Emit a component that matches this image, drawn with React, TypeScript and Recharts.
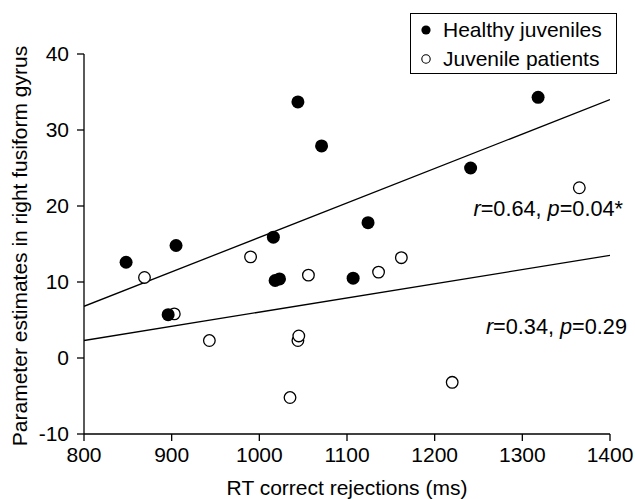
import React from "react";
import { ComposedChart, Scatter, XAxis, YAxis } from "recharts";

document.body.style.margin = "0";

// RT correct rejections (ms) vs parameter estimate
const healthyRt = [848, 896, 905, 1016, 1018, 1023, 1044, 1071, 1107, 1124, 1241, 1318];
const healthyBeta = [12.6, 5.7, 14.8, 15.9, 10.2, 10.4, 33.7, 27.9, 10.5, 17.8, 25.0, 34.3];

const patientRt = [869, 903, 943, 990, 1035, 1044, 1045, 1056, 1136, 1162, 1220, 1365];
const patientBeta = [10.6, 5.8, 2.3, 13.3, -5.2, 2.3, 2.9, 10.9, 11.3, 13.2, -3.2, 22.4];

// fitted lines, endpoints
const fitX = [800, 1400];
const healthyFit = [6.8, 34.0];
const patientFit = [2.3, 13.5];

const xTicks = [800, 900, 1000, 1100, 1200, 1300, 1400];
const yTicks = [-10, 0, 10, 20, 30, 40];

const FONT = '"Liberation Sans", Arial, Helvetica, sans-serif';
const FS = 21;

const toPoints = (xs: number[], ys: number[]) => xs.map((x, i) => ({ x, y: ys[i] }));

const FilledDot = (p: any) => <circle cx={p.cx} cy={p.cy} r={6.5} fill="#000" />;
const OpenDot = (p: any) => (
  <circle cx={p.cx} cy={p.cy} r={5.8} fill="#fff" stroke="#000" strokeWidth={1.3} />
);
const NoDot = () => <g />;

function LegendBox() {
  const row = { display: "flex", alignItems: "center", height: 29 } as const;
  return (
    <div
      style={{
        position: "absolute",
        left: 410,
        top: 13,
        border: "1.3px solid #000",
        background: "#fff",
        width: 207,
        height: 61,
        boxSizing: "border-box",
        padding: "1px 0 0 9px",
        fontSize: FS,
        color: "#000",
      }}
    >
      <div style={row}>
        <svg width={23} height={14}>
          <circle cx={6} cy={7} r={4.6} fill="#000" />
        </svg>
        Healthy juveniles
      </div>
      <div style={row}>
        <svg width={23} height={14}>
          <circle cx={6} cy={7} r={4.2} fill="#fff" stroke="#000" strokeWidth={1.1} />
        </svg>
        Juvenile patients
      </div>
    </div>
  );
}

const tickStyle = { fontSize: FS, fill: "#000", fontFamily: FONT };
const axisLine = { stroke: "#000", strokeWidth: 1.3 };
const note = { position: "absolute", fontSize: 21.7, color: "#000", whiteSpace: "nowrap" } as const;

export default function App() {
  return (
    <div style={{ position: "relative", width: 635, height: 499, background: "#fff", fontFamily: FONT }}>
      <ComposedChart width={635} height={499} margin={{ top: 54, right: 25, bottom: 0, left: 0 }}>
        <XAxis
          type="number"
          dataKey="x"
          domain={[800, 1400]}
          ticks={xTicks}
          allowDataOverflow
          height={65}
          tick={tickStyle}
          tickSize={7}
          tickMargin={6}
          axisLine={axisLine}
          tickLine={axisLine}
          label={{
            value: "RT correct rejections (ms)",
            position: "insideBottom",
            offset: 4,
            style: { fontSize: FS, fill: "#000", fontFamily: FONT },
          }}
        />
        <YAxis
          type="number"
          dataKey="y"
          domain={[-10, 40]}
          ticks={yTicks}
          allowDataOverflow
          width={84}
          tick={tickStyle}
          tickSize={7}
          tickMargin={8}
          axisLine={axisLine}
          tickLine={axisLine}
        />
        <Scatter
          data={toPoints(fitX, healthyFit)}
          line={{ stroke: "#000", strokeWidth: 1.3 }}
          shape={NoDot}
          legendType="none"
          isAnimationActive={false}
        />
        <Scatter
          data={toPoints(fitX, patientFit)}
          line={{ stroke: "#000", strokeWidth: 1.3 }}
          shape={NoDot}
          legendType="none"
          isAnimationActive={false}
        />
        <Scatter
          name="Juvenile patients"
          data={toPoints(patientRt, patientBeta)}
          shape={OpenDot}
          isAnimationActive={false}
        />
        <Scatter
          name="Healthy juveniles"
          data={toPoints(healthyRt, healthyBeta)}
          shape={FilledDot}
          isAnimationActive={false}
        />
      </ComposedChart>

      <LegendBox />
      <div
        style={{
          position: "absolute",
          left: 20,
          top: 246,
          transform: "translate(-50%, -50%) rotate(-90deg)",
          whiteSpace: "nowrap",
          fontSize: FS,
          color: "#000",
        }}
      >
        Parameter estimates in right fusiform gyrus
      </div>
      <div style={{ ...note, right: 12, top: 196 }}>
        <i>r</i>=0.64, <i>p</i>=0.04*
      </div>
      <div style={{ ...note, right: 8, top: 314 }}>
        <i>r</i>=0.34, <i>p</i>=0.29
      </div>
    </div>
  );
}
